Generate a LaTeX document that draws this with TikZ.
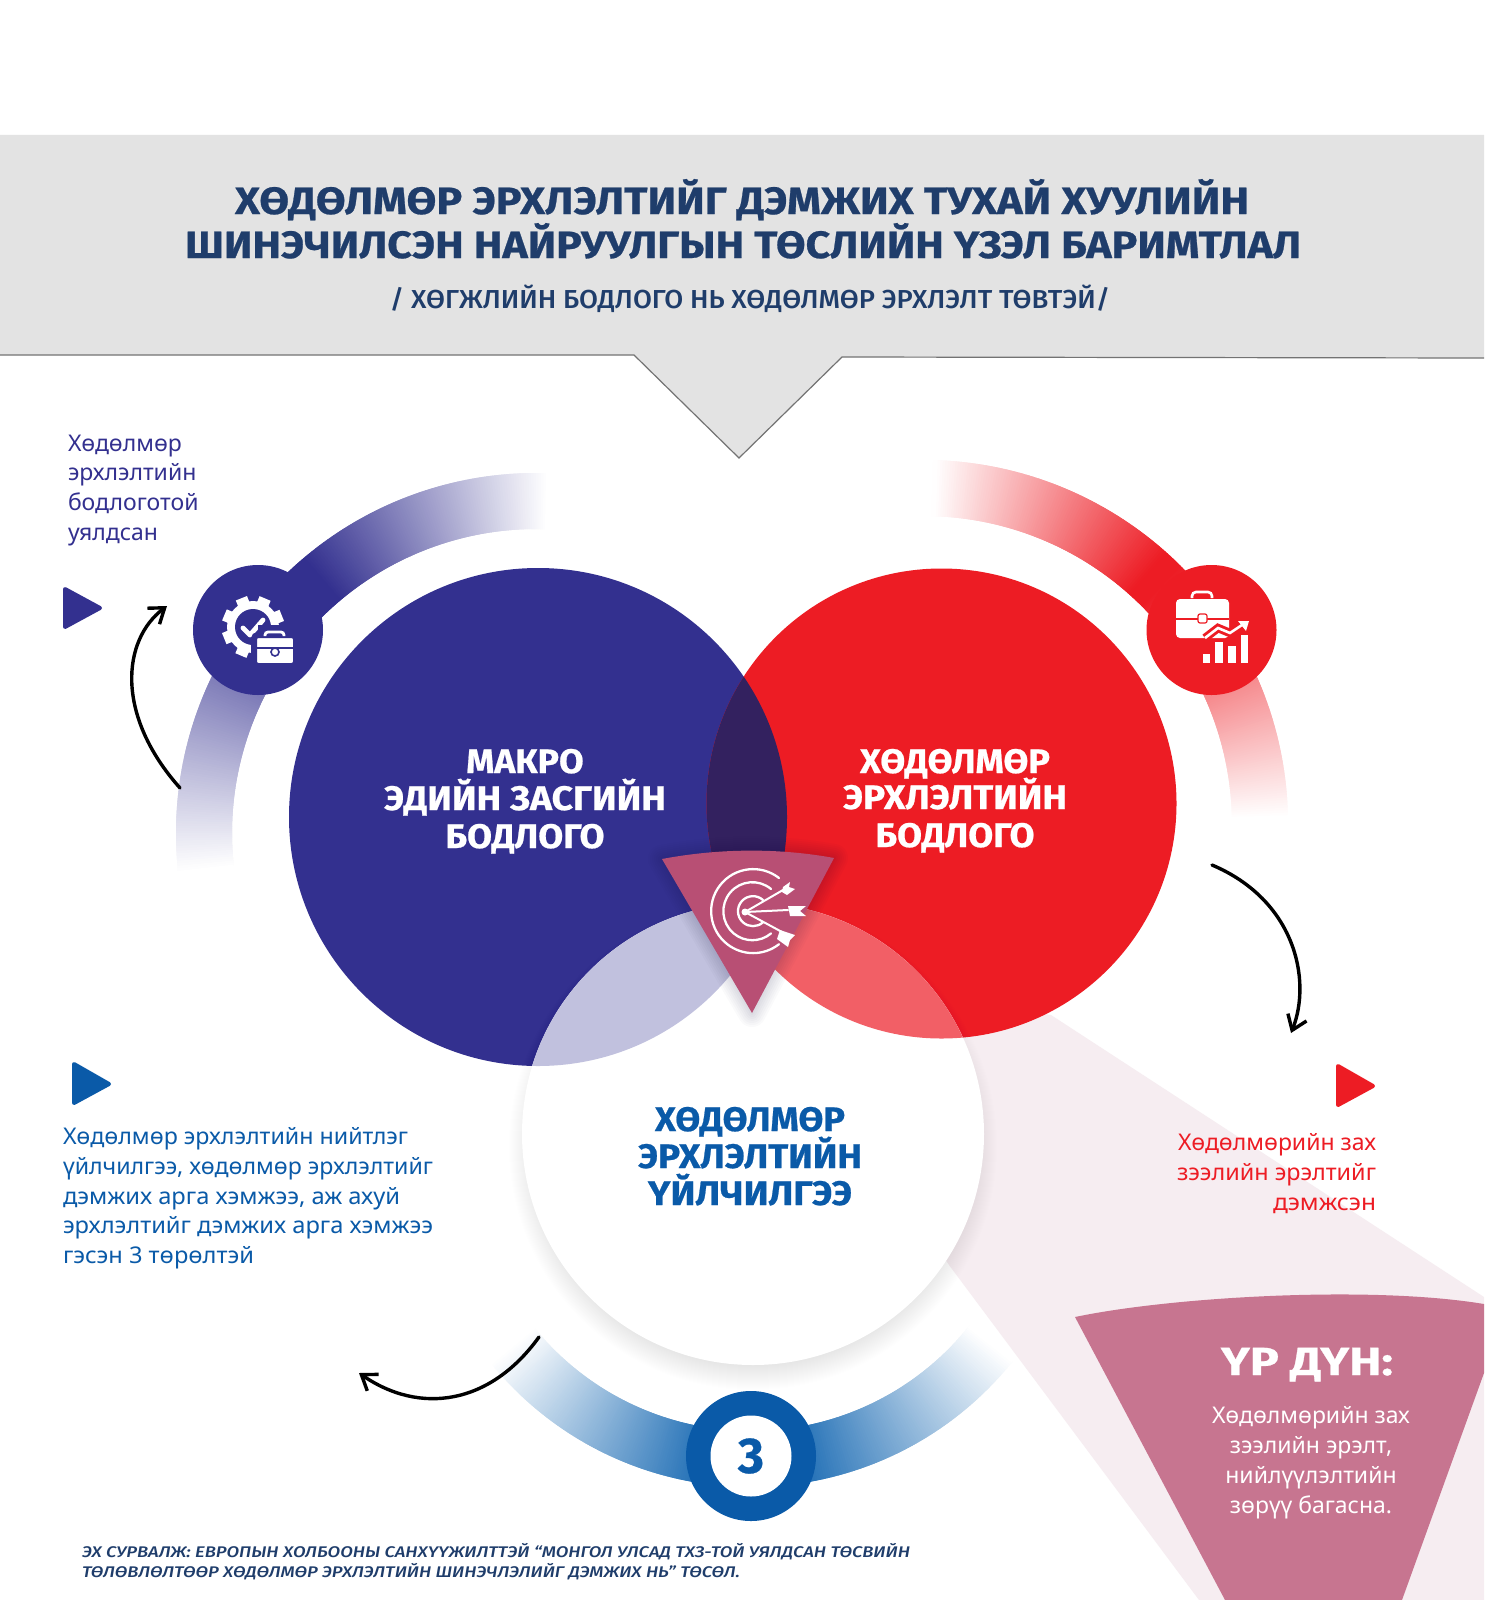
\documentclass[tikz,border=0pt]{standalone}
\usepackage{fontspec}
\usepackage{graphicx}
\setmainfont{Noto Sans}
\newfontfamily\heavy[BoldFont={Fira Sans Bold},BoldFeatures={FakeBold=0.6}]{Fira Sans}
\newfontfamily\semib[BoldFont={Fira Sans Medium},BoldItalicFont={Fira Sans Medium Italic}]{Fira Sans}
\usetikzlibrary{arrows.meta}
\definecolor{navy}{HTML}{33308F}
\definecolor{crim}{HTML}{ED1C24}
\definecolor{midblue}{HTML}{0A5AA8}
\definecolor{bandblue}{HTML}{1C6CB4}
\definecolor{titleblue}{HTML}{1F3D6B}
\definecolor{greybox}{HTML}{E3E3E3}
\definecolor{rose}{HTML}{C77590}
\definecolor{palerose}{HTML}{F6EDF1}
\definecolor{trirose}{HTML}{B84F74}
\definecolor{darkover}{HTML}{33215F}
\definecolor{lightblueover}{HTML}{C1C1DE}
\definecolor{lightredover}{HTML}{F25F66}
\newcommand\fitw[2]{\resizebox{#1}{\height}{#2}}
\newcommand\gradarc[9]{%
  \pgfmathtruncatemacro\nseg{(#9-#6)/0.4}%
  \foreach \k in {0,...,\nseg}{%
    \pgfmathsetmacro\a{#6+0.4*\k}%
    \pgfmathsetmacro\p{100*max(0,min(1,min((\a-#6)/(#7-#6),(#9-\a)/(#9-#8))))}%
    \draw[line width=#4,line cap=butt,color={#5!\p!white}]
      ({#1+#3*cos(\a)},{#2-#3*sin(\a)}) -- ({#1+#3*cos(\a+0.8)},{#2-#3*sin(\a+0.8)});
  }}
\tikzset{
  txt/.style={inner sep=0pt,outer sep=0pt,anchor=base},
  txtl/.style={inner sep=0pt,outer sep=0pt,anchor=base west},
  txtr/.style={inner sep=0pt,outer sep=0pt,anchor=base east},
  curvearrow/.style={draw=black,line width=1.7pt,line cap=round,-{Straight Barb[length=7pt,width=10pt,line width=1.7pt]}},
  iconline/.style={draw=white,line width=1.15pt,line cap=round,line join=round},
  playmark/.style={line join=round,line width=2pt},
}
\begin{document}
\begin{tikzpicture}[x=0.5pt,y=-0.5pt]
\useasboundingbox (0,0) rectangle (1484,1600);
\fill[white] (0,0) rectangle (1484,1600);
% header
\fill[greybox] (0,135) -- (1484,135) -- (1484,358) -- (842,357) -- (739,458) -- (634,355) -- (0,355) -- cycle;
\draw[gray!90!black,line width=0.6pt] (0,355) -- (634,355) -- (739,458) -- (842,357) -- (1484,358);
\node[txt,text=titleblue] (t1) at (742,214) {\fontsize{19}{19}\heavy\bfseries\fitw{507pt}{ХӨДӨЛМӨР ЭРХЛЭЛТИЙГ ДЭМЖИХ ТУХАЙ ХУУЛИЙН}};
\node[txt,text=titleblue] (t2) at (743,258) {\fontsize{19}{19}\heavy\bfseries\fitw{558pt}{ШИНЭЧИЛСЭН НАЙРУУЛГЫН ТӨСЛИЙН ҮЗЭЛ БАРИМТЛАЛ}};
\node[txt,text=titleblue] (t3) at (750,308) {\fontsize{13}{13}\semib\bfseries\fitw{360pt}{/ ХӨГЖЛИЙН БОДЛОГО НЬ ХӨДӨЛМӨР ЭРХЛЭЛТ ТӨВТЭЙ/}};
% gradient arcs
\gradarc{536}{833}{332}{28pt}{navy}{88}{130}{135}{186}
\gradarc{924}{824}{336}{28pt}{crim}{1}{45}{48}{88}
\gradarc{751}{1152}{307}{28pt}{bandblue}{219}{262}{278}{321}
% pale beam
\fill[palerose] (1051,1015) -- (1484,1297) -- (1484,1600) -- (1199,1600) -- (949,1265) -- (860,1130) -- (950,1000) -- cycle;
% main circles
\fill[navy] (538,817) circle[radius=249];
\fill[crim] (941.5,803.5) circle[radius=235];
\begin{scope}
  \clip (538,817) circle[radius=249];
  \fill[darkover] (941.5,803.5) circle[radius=235];
\end{scope}
% soft shadow of the white circle
\foreach \r in {0,...,24}{\fill[black!80!blue,opacity=0.005] (753,1146) circle[radius=220+\r];}
\fill[white] (753,1134) circle[radius=231];
\begin{scope}
  \clip (753,1134) circle[radius=231];
  \fill[lightblueover] (538,817) circle[radius=249];
  \fill[lightredover] (941.5,803.5) circle[radius=235];
\end{scope}
% target wedge
\foreach \w in {4,8,...,28}{\draw[black!80!blue,opacity=0.02,line width=\w*0.5pt,line join=round] (662,859) .. controls (720,848) and (780,848) .. (834,858) -- (752,1013) -- cycle;}
\fill[trirose] (662,859) .. controls (720,848) and (780,848) .. (834,858) -- (752,1013) -- cycle;
\begin{scope}[shift={(753,911)}]
  \draw[iconline] (26,-33) arc[start angle=-52,end angle=-308,radius=42];
  \draw[iconline] (18,-22) arc[start angle=-50,end angle=-310,radius=29];
  \draw[iconline] (10,-11) arc[start angle=-48,end angle=-312,radius=15];
\end{scope}
\begin{scope}[shift={(745,912)}]
  \fill[white] (0,0) circle[radius=3.5];
  \draw[iconline,line width=1pt] (0,0) -- (38,-22);
  \draw[iconline,line width=1pt] (0,0) -- (43,-2);
  \draw[iconline,line width=1pt] (0,0) -- (37,20);
  \fill[white] (38,-25) -- (45,-30) -- (44,-25) -- (50,-23) -- (42,-17) -- (37,-20) -- cycle;
  \fill[white] (43,-6) -- (61,-6) -- (55,-1) -- (61,4) -- (45,4) -- cycle;
  \fill[white] (35,18) -- (50,23) -- (45,28) -- (43,35) -- (32,27) -- cycle;
\end{scope}
% icon discs
\node[circle,fill=navy,minimum size=65pt,inner sep=0pt] (disc1) at (258,630) {};
\node[circle,fill=crim,minimum size=65pt,inner sep=0pt] (disc2) at (1211.5,630) {};
\node[circle,fill=midblue,minimum size=65pt,inner sep=0pt] (disc3) at (751,1456) {};
\node[circle,fill=white,minimum size=40.5pt,inner sep=0pt,text=midblue] (three) at (751,1456) {\fontsize{25}{25}\heavy\bfseries 3};
% gear icon
\begin{scope}[shift={(253,627)}]
  \fill[white] (0,0) circle[radius=26];
  \foreach \i in {0,45,...,315}{\fill[white,rotate=\i+22] (-6,-31) rectangle (6,0);}
  \fill[navy] (0,0) circle[radius=18];
  \draw[white,line width=2.4pt,line cap=round,line join=round] (-10,1) -- (-3,8) -- (10,-7);
\end{scope}
\draw[navy,line width=3pt,fill=white,rounded corners=2pt] (254,635) rectangle (296,666);
\draw[navy,line width=3pt] (261,636) -- (261,628) -- (288,628) -- (288,636);
\draw[white,line width=1.4pt,rounded corners=1.5pt] (265,636) -- (265,632) -- (284,632) -- (284,636);
\draw[navy,line width=0.9pt] (257,648) -- (293,648);
\fill[white,draw=navy,line width=0.8pt] (275,652) circle[radius=4];
% case-and-chart icon
\fill[white,rounded corners=2pt] (1176,599) rectangle (1229,638);
\draw[crim,line width=1pt] (1176,619) -- (1198,619) (1207,619) -- (1229,619);
\fill[white,draw=crim,line width=0.6pt,rounded corners=1pt] (1198,614) rectangle (1207,623);
\draw[white,line width=1.3pt,rounded corners=2pt] (1192,598) -- (1192,592) -- (1212,592) -- (1212,598);
\draw[crim,line width=4.2pt,line join=miter] (1205,638) -- (1218,628) -- (1230,633) -- (1247,622);
\draw[white,line width=1.3pt] (1205,638) -- (1218,628) -- (1230,633) -- (1245,623);
\fill[white] (1249,621) -- (1238,621) -- (1246,631) -- cycle;
\fill[white] (1203,654) rectangle (1210,663);
\fill[white] (1215,642) rectangle (1223,663);
\fill[white] (1228,646) rectangle (1236,663);
\fill[white] (1241,635) rectangle (1248,663);
% play marks
\fill[navy,draw=navy,playmark] (65,589) -- (65,627) -- (100,608) -- cycle;
\fill[midblue,draw=midblue,playmark] (74,1064) -- (74,1103) -- (109,1084) -- cycle;
\fill[crim,draw=crim,playmark] (1338,1066) -- (1338,1105) -- (1373,1086) -- cycle;
% connectors
\coordinate (a1s) at (180,788); \coordinate (a1e) at (167,606);
\coordinate (a2s) at (1212,865); \coordinate (a2e) at (1291,1033);
\coordinate (a3s) at (539,1337); \coordinate (a3e) at (359,1373);
\draw[curvearrow] (a1s) .. controls (115,715) and (122,640) .. (a1e);
\draw[curvearrow] (a2s) .. controls (1295,900) and (1312,980) .. (a2e);
\draw[curvearrow] (a3s) .. controls (490,1405) and (420,1415) .. (a3e);
% labels on circles
\node[txt,text=white] (m1) at (525,773) {\fontsize{17}{18}\heavy\bfseries\fitw{58.7pt}{МАКРО}};
\node[txt,text=white] (m2) at (525,810) {\fontsize{17}{18}\heavy\bfseries\fitw{141pt}{ЭДИЙН ЗАСГИЙН}};
\node[txt,text=white] (m3) at (525,848) {\fontsize{17}{18}\heavy\bfseries\fitw{79.5pt}{БОДЛОГО}};
\node[txt,text=white] (h1) at (955,773) {\fontsize{17}{18}\heavy\bfseries\fitw{95pt}{ХӨДӨЛМӨР}};
\node[txt,text=white] (h2) at (955,809) {\fontsize{17}{18}\heavy\bfseries\fitw{112pt}{ЭРХЛЭЛТИЙН}};
\node[txt,text=white] (h3) at (955,847) {\fontsize{17}{18}\heavy\bfseries\fitw{79.5pt}{БОДЛОГО}};
\node[txt,text=midblue] (u1) at (750,1131) {\fontsize{17}{18}\heavy\bfseries\fitw{95pt}{ХӨДӨЛМӨР}};
\node[txt,text=midblue] (u2) at (750,1168) {\fontsize{17}{18}\heavy\bfseries\fitw{112pt}{ЭРХЛЭЛТИЙН}};
\node[txt,text=midblue] (u3) at (750,1205) {\fontsize{17}{18}\heavy\bfseries\fitw{102pt}{ҮЙЛЧИЛГЭЭ}};
% side text
\foreach \n/\yy/\s in {s1/451/Хөдөлмөр,s2/480/эрхлэлтийн,s3/510/бодлоготой,s4/540/уялдсан}
  \node[txtl,text=navy] (\n) at (68,\yy) {\fontsize{11.5}{12}\selectfont\s};
\foreach \n/\yy/\w/\s in {b1/1144/172.5/{Хөдөлмөр эрхлэлтийн нийтлэг},b2/1174/185/{үйлчилгээ, хөдөлмөр эрхлэлтийг},b3/1204/168.5/{дэмжих арга хэмжээ, аж ахуй},b4/1233/185/{эрхлэлтийг дэмжих арга хэмжээ},b5/1263/95.5/{гэсэн 3 төрөлтэй}}
  \node[txtl,text=midblue] (\n) at (63,\yy) {\fontsize{11.5}{12}\selectfont\fitw{\w pt}{\s}};
\foreach \n/\yy/\w/\s in {r1/1150/99/{Хөдөлмөрийн зах},r2/1180/99.5/{зээлийн эрэлтийг},r3/1210/51.5/{дэмжсэн}}
  \node[txtr,text=crim] (\n) at (1376,\yy) {\fontsize{11.5}{12}\selectfont\fitw{\w pt}{\s}};
% result wedge
\fill[rose] (1075,1317) .. controls (1170,1297) and (1370,1285) .. (1484,1304) -- (1484,1373) -- (1402,1600) -- (1225,1600) -- cycle;
\node[txt,text=white] (res) at (1307,1375) {\fontsize{19.6}{20}\heavy\bfseries\fitw{86pt}{ҮР ДҮН:}};
\foreach \n/\yy/\s in {e1/1423/{Хөдөлмөрийн зах},e2/1453/{зээлийн эрэлт,},e3/1483/{нийлүүлэлтийн},e4/1513/{зөрүү багасна.}}
  \node[txt,text=white] (\n) at (1311,\yy) {\fontsize{11.5}{12}\selectfont\s};
% source
\node[txtl,text=titleblue] (f1) at (82,1557) {\fontsize{7.7}{8}\semib\bfseries\itshape\fitw{414pt}{ЭХ СУРВАЛЖ: ЕВРОПЫН ХОЛБООНЫ САНХҮҮЖИЛТТЭЙ “МОНГОЛ УЛСАД ТХЗ-ТОЙ УЯЛДСАН ТӨСВИЙН}};
\node[txtl,text=titleblue] (f2) at (82,1577) {\fontsize{7.7}{8}\semib\bfseries\itshape\fitw{329pt}{ТӨЛӨВЛӨЛТӨӨР ХӨДӨЛМӨР ЭРХЛЭЛТИЙН ШИНЭЧЛЭЛИЙГ ДЭМЖИХ НЬ” ТӨСӨЛ.}};
\end{tikzpicture}
\end{document}
